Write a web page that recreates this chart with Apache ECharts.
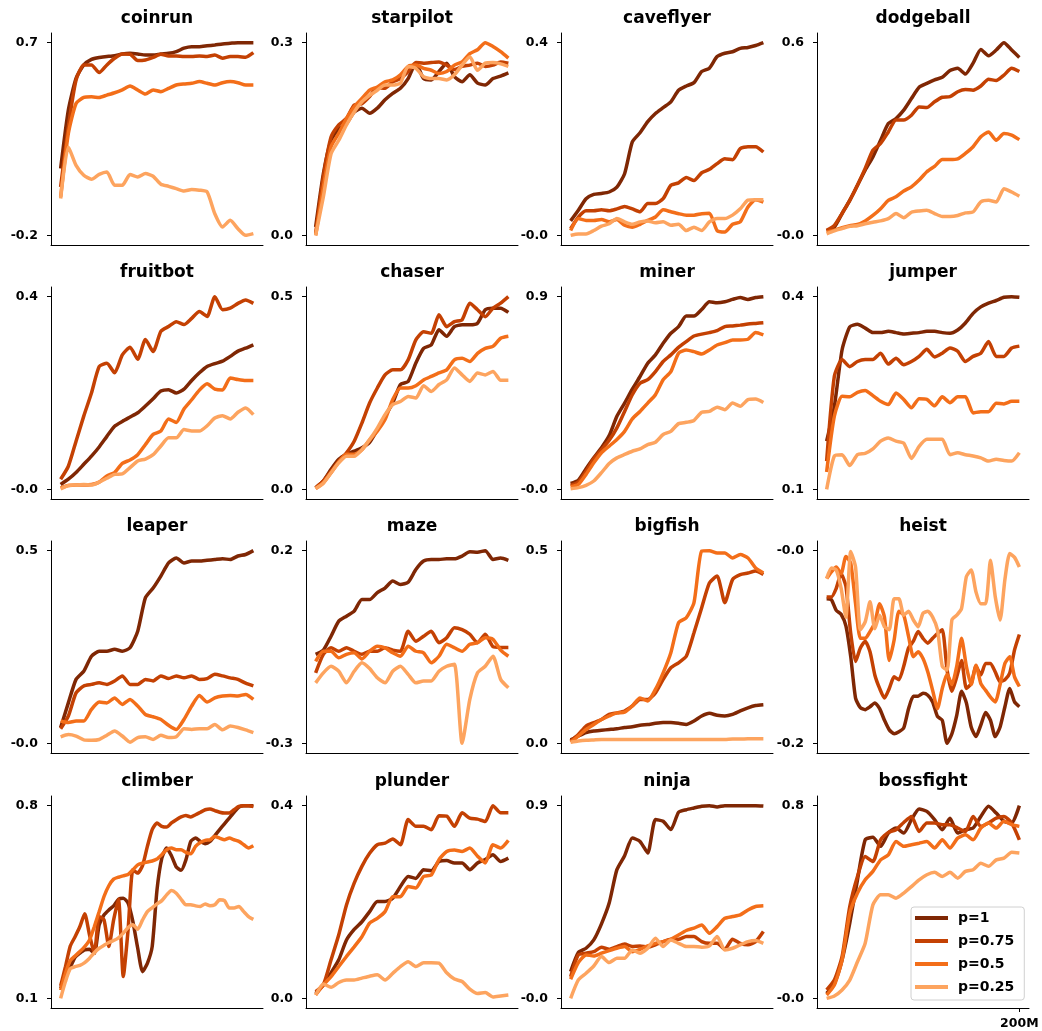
<!doctype html>
<html>
<head>
<meta charset="utf-8">
<title>procgen</title>
<style>
  html, body { margin: 0; padding: 0; background: #fff; }
  #chart { width: 1042px; height: 1031px; }
</style>
</head>
<body>
<div id="chart"></div>
<script src="https://cdn.jsdelivr.net/npm/echarts@6/dist/echarts.min.js"></script>
<script>
// series order: p=1, p=0.75, p=0.5, p=0.25
var seriesNames = ['p=1', 'p=0.75', 'p=0.5', 'p=0.25'];
var colors = ['#7f2704', '#c44103', '#f36e19', '#fda45f'];

var envNames = ['coinrun', 'starpilot', 'caveflyer', 'dodgeball',
                'fruitbot', 'chaser', 'miner', 'jumper',
                'leaper', 'maze', 'bigfish', 'heist',
                'climber', 'plunder', 'ninja', 'bossfight'];

// y ticks are drawn only at the bottom / top of each panel
var yTickLo = [-0.2, 0.0, 0.0, 0.0, 0.0, 0.0, 0.0, 0.1, 0.0, -0.3, 0.0, -0.2, 0.1, 0.0, 0.0, 0.0];
var yTickHi = [0.7, 0.3, 0.4, 0.6, 0.4, 0.5, 0.9, 0.4, 0.5, 0.2, 0.5, 0.0, 0.8, 0.4, 0.9, 0.8];
var yLabelLo = ['-0.2', '0.0', '-0.0', '-0.0', '-0.0', '0.0', '-0.0', '0.1', '-0.0', '-0.3', '0.0', '-0.2', '0.1', '0.0', '-0.0', '-0.0'];
var yLabelHi = ['0.7', '0.3', '0.4', '0.6', '0.4', '0.5', '0.9', '0.4', '0.5', '0.2', '0.5', '-0.0', '0.8', '0.4', '0.9', '0.8'];

var xTicks = [200];
var xTickLabels = ['200M'];

var coinrun = [
  [0.112,0.385,0.533,0.596,0.622,0.631,0.635,0.639,0.647,0.650,0.647,0.642,0.642,0.647,0.650,0.658,0.674,0.681,0.681,0.685,0.689,0.694,0.697,0.700,0.700,0.700],
  [0.026,0.307,0.525,0.596,0.596,0.560,0.596,0.627,0.647,0.646,0.616,0.619,0.631,0.646,0.638,0.638,0.635,0.635,0.638,0.635,0.642,0.627,0.635,0.635,0.632,0.653],
  [-0.021,0.276,0.416,0.444,0.447,0.444,0.455,0.466,0.479,0.497,0.479,0.460,0.479,0.471,0.486,0.502,0.507,0.510,0.518,0.510,0.502,0.513,0.518,0.513,0.502,0.502],
  [-0.028,0.213,0.127,0.081,0.062,0.085,0.096,0.034,0.034,0.084,0.073,0.089,0.076,0.039,0.029,0.018,0.007,0.014,0.011,0.003,-0.099,-0.161,-0.130,-0.169,-0.200,-0.192]
];
var starpilot = [
  [0.013,0.096,0.148,0.166,0.174,0.192,0.198,0.190,0.198,0.211,0.221,0.229,0.244,0.268,0.244,0.242,0.255,0.268,0.247,0.239,0.250,0.237,0.234,0.244,0.248,0.253],
  [0.003,0.091,0.153,0.172,0.182,0.203,0.205,0.216,0.230,0.229,0.239,0.244,0.255,0.269,0.268,0.269,0.270,0.265,0.258,0.263,0.265,0.268,0.263,0.265,0.270,0.268],
  [0.000,0.075,0.138,0.159,0.182,0.200,0.213,0.226,0.231,0.239,0.242,0.250,0.263,0.265,0.260,0.257,0.252,0.255,0.265,0.270,0.283,0.289,0.300,0.294,0.286,0.276],
  [0.000,0.060,0.127,0.148,0.172,0.192,0.208,0.218,0.226,0.234,0.234,0.237,0.263,0.260,0.247,0.244,0.244,0.242,0.250,0.265,0.278,0.257,0.268,0.269,0.267,0.263]
];
var caveflyer = [
  [0.030,0.052,0.076,0.085,0.087,0.090,0.100,0.128,0.194,0.213,0.236,0.253,0.265,0.277,0.301,0.310,0.317,0.340,0.347,0.371,0.378,0.381,0.388,0.390,0.394,0.400],
  [0.014,0.038,0.051,0.051,0.053,0.051,0.055,0.060,0.055,0.049,0.066,0.066,0.076,0.104,0.109,0.120,0.114,0.130,0.137,0.149,0.159,0.157,0.180,0.184,0.184,0.173],
  [0.010,0.035,0.031,0.031,0.033,0.028,0.033,0.021,0.017,0.023,0.031,0.038,0.053,0.049,0.045,0.042,0.042,0.045,0.046,0.010,0.007,0.023,0.028,0.059,0.074,0.069],
  [0.000,0.003,0.003,0.010,0.019,0.024,0.035,0.028,0.023,0.028,0.030,0.026,0.028,0.021,0.023,0.010,0.017,0.010,0.028,0.035,0.035,0.042,0.055,0.073,0.074,0.074]
];
var dodgeball = [
  [0.014,0.026,0.068,0.109,0.156,0.203,0.244,0.296,0.348,0.364,0.390,0.426,0.461,0.473,0.484,0.492,0.513,0.520,0.502,0.536,0.579,0.559,0.577,0.600,0.577,0.554],
  [0.016,0.031,0.068,0.109,0.156,0.208,0.265,0.286,0.322,0.359,0.359,0.374,0.400,0.398,0.416,0.430,0.432,0.447,0.454,0.452,0.465,0.486,0.482,0.499,0.520,0.510],
  [0.010,0.016,0.024,0.030,0.034,0.045,0.062,0.083,0.109,0.120,0.138,0.151,0.172,0.198,0.215,0.236,0.236,0.238,0.255,0.276,0.307,0.322,0.296,0.317,0.312,0.298],
  [0.005,0.014,0.021,0.028,0.030,0.036,0.041,0.045,0.052,0.068,0.055,0.072,0.076,0.078,0.068,0.059,0.059,0.062,0.070,0.073,0.104,0.109,0.104,0.145,0.135,0.122]
];
var fruitbot = [
  [0.010,0.021,0.035,0.052,0.069,0.088,0.110,0.131,0.141,0.150,0.159,0.173,0.188,0.204,0.207,0.200,0.208,0.226,0.242,0.255,0.261,0.266,0.276,0.287,0.293,0.300],
  [0.021,0.048,0.100,0.152,0.200,0.255,0.262,0.242,0.279,0.295,0.270,0.311,0.286,0.328,0.338,0.348,0.342,0.355,0.369,0.359,0.400,0.373,0.376,0.386,0.393,0.386],
  [0.003,0.008,0.009,0.009,0.010,0.015,0.028,0.035,0.054,0.061,0.072,0.093,0.114,0.121,0.146,0.139,0.167,0.186,0.206,0.219,0.208,0.206,0.231,0.228,0.226,0.226],
  [0.001,0.008,0.009,0.010,0.009,0.015,0.023,0.031,0.032,0.045,0.059,0.063,0.072,0.090,0.107,0.107,0.124,0.121,0.121,0.132,0.148,0.153,0.146,0.160,0.169,0.155]
];
var chaser = [
  [0.004,0.022,0.052,0.078,0.091,0.099,0.108,0.122,0.155,0.190,0.224,0.272,0.280,0.328,0.366,0.375,0.414,0.397,0.422,0.427,0.427,0.431,0.466,0.470,0.470,0.459],
  [0.004,0.022,0.047,0.073,0.095,0.125,0.172,0.224,0.263,0.297,0.310,0.310,0.336,0.388,0.409,0.405,0.453,0.422,0.435,0.440,0.483,0.466,0.448,0.470,0.483,0.500],
  [0.002,0.017,0.043,0.071,0.091,0.091,0.103,0.128,0.151,0.181,0.233,0.263,0.263,0.269,0.284,0.293,0.302,0.310,0.336,0.340,0.332,0.353,0.366,0.371,0.392,0.397],
  [0.002,0.016,0.043,0.069,0.086,0.086,0.103,0.129,0.159,0.194,0.220,0.228,0.241,0.237,0.269,0.254,0.272,0.284,0.315,0.297,0.280,0.302,0.297,0.306,0.283,0.283]
];
var miner = [
  [0.028,0.043,0.096,0.147,0.194,0.251,0.341,0.403,0.468,0.527,0.589,0.628,0.682,0.729,0.760,0.809,0.809,0.840,0.876,0.871,0.876,0.887,0.896,0.887,0.896,0.900],
  [0.019,0.034,0.085,0.143,0.186,0.229,0.287,0.364,0.442,0.496,0.512,0.550,0.597,0.628,0.663,0.690,0.716,0.725,0.732,0.741,0.760,0.763,0.767,0.772,0.775,0.778],
  [0.012,0.023,0.070,0.124,0.171,0.202,0.233,0.271,0.329,0.364,0.403,0.442,0.512,0.550,0.636,0.651,0.643,0.632,0.651,0.674,0.685,0.698,0.698,0.701,0.732,0.721],
  [0.003,0.008,0.019,0.039,0.078,0.121,0.147,0.163,0.178,0.189,0.209,0.220,0.256,0.271,0.307,0.313,0.322,0.360,0.364,0.384,0.372,0.403,0.388,0.419,0.422,0.406]
];
var jumper = [
  [0.175,0.229,0.317,0.353,0.357,0.351,0.344,0.344,0.346,0.344,0.342,0.343,0.344,0.346,0.346,0.344,0.343,0.348,0.359,0.374,0.384,0.390,0.394,0.399,0.400,0.399],
  [0.144,0.276,0.302,0.291,0.299,0.302,0.302,0.312,0.295,0.304,0.294,0.299,0.307,0.318,0.306,0.312,0.320,0.315,0.299,0.307,0.312,0.330,0.307,0.307,0.320,0.323],
  [0.127,0.214,0.245,0.244,0.251,0.254,0.246,0.237,0.232,0.250,0.240,0.227,0.241,0.240,0.230,0.244,0.235,0.244,0.244,0.219,0.221,0.221,0.234,0.233,0.237,0.237],
  [0.100,0.152,0.154,0.137,0.154,0.156,0.163,0.175,0.180,0.175,0.172,0.148,0.167,0.178,0.178,0.178,0.154,0.157,0.154,0.152,0.149,0.144,0.147,0.145,0.144,0.157]
];
var leaper = [
  [0.041,0.105,0.166,0.187,0.226,0.239,0.239,0.244,0.239,0.248,0.291,0.378,0.403,0.434,0.468,0.481,0.468,0.473,0.473,0.475,0.477,0.479,0.477,0.486,0.490,0.500],
  [0.038,0.071,0.131,0.149,0.153,0.157,0.153,0.162,0.175,0.153,0.153,0.166,0.162,0.175,0.168,0.175,0.170,0.175,0.166,0.168,0.179,0.175,0.170,0.166,0.156,0.149],
  [0.058,0.054,0.058,0.058,0.088,0.107,0.105,0.118,0.101,0.114,0.097,0.075,0.069,0.062,0.047,0.036,0.062,0.097,0.124,0.107,0.118,0.123,0.124,0.123,0.127,0.114],
  [0.017,0.023,0.019,0.009,0.008,0.010,0.021,0.032,0.019,0.003,0.015,0.017,0.010,0.021,0.015,0.017,0.038,0.036,0.038,0.038,0.049,0.035,0.045,0.041,0.035,0.028]
];
var maze = [
  [-0.069,-0.058,-0.022,0.017,0.030,0.043,0.073,0.073,0.091,0.103,0.121,0.112,0.118,0.151,0.173,0.177,0.177,0.179,0.179,0.186,0.197,0.196,0.200,0.177,0.181,0.175],
  [-0.117,-0.069,-0.052,-0.061,-0.052,-0.061,-0.069,-0.061,-0.061,-0.052,-0.058,-0.061,-0.009,-0.035,-0.022,-0.009,-0.039,-0.026,0.000,-0.005,-0.017,-0.039,-0.017,-0.049,-0.051,-0.051],
  [-0.087,-0.061,-0.061,-0.078,-0.069,-0.065,-0.081,-0.061,-0.048,-0.052,-0.065,-0.074,-0.048,-0.061,-0.065,-0.091,-0.074,-0.043,-0.052,-0.061,-0.043,-0.039,-0.026,-0.030,-0.058,-0.074],
  [-0.143,-0.117,-0.100,-0.113,-0.143,-0.113,-0.091,-0.106,-0.130,-0.143,-0.113,-0.100,-0.121,-0.143,-0.138,-0.138,-0.113,-0.100,-0.095,-0.300,-0.186,-0.117,-0.100,-0.074,-0.134,-0.156]
];
var bigfish = [
  [0.009,0.019,0.028,0.032,0.034,0.036,0.038,0.041,0.043,0.047,0.049,0.052,0.054,0.054,0.052,0.049,0.058,0.071,0.078,0.073,0.071,0.075,0.084,0.092,0.098,0.100],
  [0.006,0.023,0.045,0.054,0.062,0.075,0.079,0.084,0.097,0.114,0.114,0.131,0.166,0.196,0.209,0.226,0.287,0.352,0.416,0.434,0.365,0.425,0.438,0.442,0.447,0.438],
  [0.003,0.019,0.036,0.049,0.062,0.071,0.079,0.081,0.097,0.118,0.110,0.140,0.183,0.235,0.313,0.326,0.365,0.499,0.500,0.494,0.494,0.481,0.490,0.481,0.455,0.442],
  [0.003,0.006,0.008,0.009,0.010,0.010,0.010,0.010,0.010,0.010,0.010,0.010,0.010,0.010,0.010,0.010,0.010,0.010,0.010,0.010,0.010,0.011,0.011,0.012,0.012,0.012]
];
var heist = [
  [-0.050,-0.051,-0.062,-0.066,-0.078,-0.110,-0.153,-0.163,-0.165,-0.162,-0.158,-0.164,-0.176,-0.186,-0.190,-0.188,-0.184,-0.164,-0.151,-0.151,-0.148,-0.150,-0.157,-0.172,-0.176,-0.200,-0.190,-0.171,-0.146,-0.158,-0.183,-0.193,-0.181,-0.168,-0.176,-0.193,-0.183,-0.162,-0.143,-0.157,-0.162],
  [-0.048,-0.048,-0.039,-0.024,-0.037,-0.086,-0.115,-0.101,-0.094,-0.105,-0.129,-0.143,-0.153,-0.143,-0.131,-0.134,-0.120,-0.101,-0.094,-0.084,-0.091,-0.096,-0.091,-0.086,-0.082,-0.124,-0.146,-0.131,-0.114,-0.143,-0.138,-0.120,-0.129,-0.117,-0.117,-0.126,-0.136,-0.134,-0.127,-0.103,-0.087],
  [-0.029,-0.022,-0.017,-0.024,-0.006,-0.013,-0.055,-0.091,-0.091,-0.084,-0.075,-0.055,-0.069,-0.114,-0.093,-0.063,-0.067,-0.089,-0.110,-0.105,-0.112,-0.126,-0.145,-0.164,-0.143,-0.128,-0.139,-0.120,-0.091,-0.120,-0.139,-0.119,-0.138,-0.145,-0.152,-0.157,-0.139,-0.117,-0.110,-0.131,-0.141],
  [-0.029,-0.018,-0.020,-0.039,-0.069,-0.001,-0.017,-0.082,-0.074,-0.053,-0.081,-0.067,-0.079,-0.082,-0.050,-0.050,-0.067,-0.063,-0.072,-0.079,-0.065,-0.063,-0.069,-0.082,-0.120,-0.124,-0.072,-0.067,-0.060,-0.027,-0.020,-0.043,-0.055,-0.055,-0.010,-0.048,-0.072,-0.030,-0.003,-0.007,-0.017]
];
var climber = [
  [0.136,0.179,0.213,0.249,0.264,0.276,0.278,0.264,0.367,0.403,0.421,0.436,0.460,0.464,0.446,0.379,0.282,0.197,0.227,0.288,0.494,0.609,0.646,0.618,0.577,0.565,0.603,0.670,0.682,0.670,0.662,0.670,0.691,0.713,0.734,0.755,0.776,0.795,0.800,0.800,0.800],
  [0.145,0.215,0.290,0.324,0.361,0.407,0.330,0.264,0.397,0.385,0.288,0.385,0.460,0.179,0.349,0.567,0.555,0.582,0.652,0.713,0.737,0.725,0.722,0.737,0.749,0.759,0.764,0.759,0.767,0.776,0.785,0.788,0.782,0.776,0.773,0.773,0.785,0.797,0.800,0.800,0.797],
  [0.130,0.191,0.237,0.254,0.270,0.288,0.312,0.361,0.415,0.470,0.509,0.533,0.540,0.545,0.550,0.567,0.585,0.591,0.595,0.599,0.606,0.622,0.640,0.646,0.640,0.640,0.630,0.625,0.652,0.666,0.674,0.676,0.688,0.682,0.676,0.682,0.676,0.670,0.658,0.646,0.654],
  [0.100,0.161,0.208,0.215,0.220,0.230,0.246,0.266,0.282,0.293,0.303,0.310,0.320,0.337,0.357,0.367,0.351,0.385,0.415,0.429,0.443,0.455,0.476,0.492,0.482,0.460,0.440,0.440,0.436,0.434,0.443,0.436,0.440,0.458,0.455,0.428,0.428,0.434,0.415,0.397,0.387]
];
var plunder = [
  [0.010,0.028,0.053,0.080,0.121,0.143,0.159,0.180,0.201,0.201,0.208,0.232,0.253,0.249,0.267,0.265,0.284,0.286,0.281,0.281,0.267,0.281,0.288,0.298,0.284,0.291],
  [0.014,0.028,0.080,0.132,0.194,0.239,0.274,0.301,0.319,0.322,0.331,0.319,0.371,0.357,0.357,0.350,0.379,0.378,0.357,0.385,0.374,0.372,0.367,0.400,0.385,0.385],
  [0.007,0.028,0.045,0.066,0.087,0.107,0.128,0.156,0.166,0.180,0.211,0.211,0.232,0.229,0.253,0.256,0.288,0.305,0.308,0.305,0.312,0.295,0.281,0.319,0.312,0.328],
  [0.007,0.030,0.023,0.033,0.038,0.038,0.042,0.046,0.049,0.038,0.052,0.066,0.076,0.066,0.074,0.074,0.073,0.053,0.040,0.035,0.019,0.010,0.012,0.003,0.005,0.007]
];
var ninja = [
  [0.125,0.214,0.234,0.273,0.348,0.445,0.601,0.666,0.749,0.733,0.679,0.835,0.827,0.788,0.869,0.881,0.889,0.897,0.900,0.894,0.900,0.900,0.900,0.900,0.900,0.898],
  [0.101,0.203,0.211,0.218,0.239,0.229,0.242,0.254,0.242,0.245,0.239,0.250,0.265,0.276,0.276,0.289,0.289,0.265,0.257,0.257,0.229,0.276,0.257,0.250,0.265,0.312],
  [0.089,0.167,0.203,0.198,0.211,0.223,0.234,0.242,0.218,0.229,0.245,0.257,0.265,0.276,0.296,0.317,0.328,0.343,0.304,0.335,0.374,0.382,0.390,0.413,0.429,0.432],
  [0.000,0.086,0.117,0.151,0.195,0.167,0.187,0.187,0.226,0.211,0.234,0.281,0.242,0.273,0.257,0.242,0.242,0.239,0.245,0.289,0.226,0.234,0.250,0.265,0.270,0.257]
];
var bossfight = [
  [0.021,0.062,0.159,0.312,0.492,0.658,0.669,0.631,0.686,0.707,0.686,0.742,0.786,0.776,0.742,0.700,0.748,0.686,0.700,0.707,0.755,0.797,0.769,0.735,0.728,0.800],
  [0.035,0.076,0.173,0.381,0.506,0.589,0.568,0.658,0.689,0.700,0.730,0.755,0.693,0.728,0.728,0.721,0.721,0.707,0.693,0.755,0.714,0.728,0.748,0.755,0.728,0.658],
  [0.014,0.055,0.159,0.353,0.437,0.492,0.527,0.575,0.596,0.651,0.631,0.638,0.644,0.651,0.624,0.658,0.624,0.665,0.679,0.658,0.707,0.728,0.707,0.735,0.721,0.714],
  [0.000,0.010,0.035,0.076,0.152,0.229,0.388,0.430,0.430,0.416,0.437,0.464,0.492,0.513,0.523,0.506,0.523,0.499,0.527,0.534,0.561,0.548,0.575,0.582,0.606,0.603]
];

var envData = [coinrun, starpilot, caveflyer, dodgeball, fruitbot, chaser, miner, jumper,
               leaper, maze, bigfish, heist, climber, plunder, ninja, bossfight];

var FONT = 'DejaVu Sans';
var gridLeft = [51, 306, 561, 817];
var gridTop = [33, 287, 541, 796];
var W = 212, H = 212;
var X_END = 200; // 200M env steps

var grids = [], titles = [], xAxes = [], yAxes = [], series = [];

envNames.forEach(function (name, k) {
    var r = Math.floor(k / 4), c = k % 4;
    var last = (k === envNames.length - 1);
    grids.push({ left: gridLeft[c], top: gridTop[r], width: W, height: H });

    titles.push({
        text: name,
        left: gridLeft[c] + W / 2,
        top: gridTop[r] - 23,
        textAlign: 'center',
        padding: 0,
        textStyle: { fontFamily: FONT, fontSize: 17, fontWeight: 'bold', color: '#000' }
    });

    var lo = yTickLo[k], hi = yTickHi[k], pad = (hi - lo) * 0.05;
    yAxes.push({
        type: 'value',
        gridIndex: k,
        min: lo - pad,
        max: hi + pad,
        splitLine: { show: false },
        axisLine: { show: true, onZero: false, lineStyle: { color: '#000', width: 1 } },
        axisTick: { show: true, customValues: [lo, hi], length: 4, lineStyle: { color: '#000', width: 1 } },
        axisLabel: {
            customValues: [lo, hi],
            margin: 13,
            fontFamily: FONT, fontSize: 12.5, fontWeight: 'bold', color: '#000',
            formatter: (function (lo, hi, k) {
                return function (v) {
                    return Math.abs(v - hi) < Math.abs(v - lo) ? yLabelHi[k] : yLabelLo[k];
                };
            })(lo, hi, k)
        }
    });

    xAxes.push({
        type: 'value',
        gridIndex: k,
        min: -X_END * 0.05,
        max: X_END * 1.05,
        splitLine: { show: false },
        axisLine: { show: true, onZero: false, lineStyle: { color: '#000', width: 1 } },
        axisTick: { show: last, customValues: xTicks, length: 4, lineStyle: { color: '#000', width: 1 } },
        axisLabel: {
            show: last,
            customValues: xTicks,
            margin: 9,
            fontFamily: FONT, fontSize: 12.5, fontWeight: 'bold', color: '#000',
            formatter: function () { return xTickLabels[0]; }
        }
    });

    envData[k].forEach(function (vals, s) {
        var n = vals.length;
        series.push({
            type: 'line',
            name: seriesNames[s],
            xAxisIndex: k,
            yAxisIndex: k,
            data: vals.map(function (v, i) { return [i * X_END / (n - 1), v]; }),
            symbol: 'none',
            showSymbol: false,
            smooth: 0.2,
            silent: true,
            lineStyle: { width: 3.5, color: colors[s] },
            itemStyle: { color: colors[s] }
        });
    });
});

var myChart = echarts.init(document.getElementById('chart'));
myChart.setOption({
    animation: false,
    backgroundColor: '#fff',
    title: titles,
    grid: grids,
    xAxis: xAxes,
    yAxis: yAxes,
    legend: {
        data: seriesNames,
        orient: 'vertical',
        left: 911,
        top: 907,
        icon: 'rect',
        itemWidth: 33,
        itemHeight: 4,
        itemGap: 9,
        padding: [4, 10, 6, 4],
        borderColor: '#d0d0d0',
        borderWidth: 1,
        borderRadius: 3,
        backgroundColor: 'rgba(255,255,255,0.85)',
        selectedMode: false,
        textStyle: { fontFamily: FONT, fontSize: 14, fontWeight: 'bold', color: '#000', lineHeight: 14, padding: [0, 0, 0, 5] }
    },
    series: series
});
</script>
</body>
</html>
